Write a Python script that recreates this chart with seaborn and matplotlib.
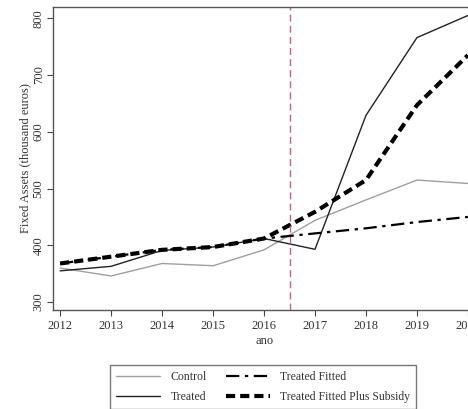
import pandas as pd
import matplotlib
matplotlib.use("Agg")
import matplotlib.pyplot as plt
import seaborn as sns

# values
years = [2012, 2013, 2014, 2015, 2016, 2017, 2018, 2019, 2020]
control = [360, 346, 368, 364, 392, 444, 480, 515, 509]
treated = [355, 363, 391, 397, 412, 393, 629, 766, 805]
treated_fitted = [368, 380, 392, 397, 412, 421, 430, 441, 450]
fitted_subsidy = [368, 380, 392, 397, 412, 459, 515, 647, 735]
treatment_year = 2016.5

df = pd.DataFrame({'ano': years, 'Control': control, 'Treated': treated,
                   'Treated Fitted': treated_fitted,
                   'Treated Fitted Plus Subsidy': fitted_subsidy})

sns.set_style('white')
plt.rcParams['font.family'] = ['Liberation Serif', 'DejaVu Serif']

fig = plt.figure(figsize=(4.68, 4.09), dpi=100)
ax = fig.add_axes([0.1132, 0.242, 0.903, 0.741])

sns.lineplot(data=df, x='ano', y='Control', ax=ax, color='#a0a0a0', lw=1.0, label='Control')
sns.lineplot(data=df, x='ano', y='Treated', ax=ax, color='#222222', lw=1.0, label='Treated')
sns.lineplot(data=df, x='ano', y='Treated Fitted', ax=ax, color='black', lw=1.6,
             label='Treated Fitted').lines[-1].set_dashes([6, 2.5, 1.5, 2.5])
sns.lineplot(data=df, x='ano', y='Treated Fitted Plus Subsidy', ax=ax, color='black', lw=3.0,
             label='Treated Fitted Plus Subsidy').lines[-1].set_dashes([2.2, 1.2])
ax.axvline(treatment_year, color='#b07080', lw=1.0, ls=(0, (5, 3)))

ax.set_xlim(2011.86, 2020.15)
ax.set_ylim(286, 820)
ax.set_xticks(years)
ax.set_yticks([300, 400, 500, 600, 700, 800])
ax.tick_params(axis='both', which='both', direction='out', length=4, width=0.8,
               color='#444444', labelsize=9, labelcolor='#333333', bottom=True, left=True)
ax.tick_params(axis='y', pad=2)
for lab in ax.get_yticklabels():
    lab.set_rotation(90)
    lab.set_va('center')
ax.set_xlabel('ano', fontsize=9, color='#333333', labelpad=2)
ax.set_ylabel('Fixed Assets (thousand euros)', fontsize=9, color='#333333', labelpad=1)
for s in ax.spines.values():
    s.set_color('#555555')
    s.set_linewidth(1.0)

ax.get_legend().remove()
h, l = ax.get_legend_handles_labels()
fig.legend(h, l, ncol=2, loc='upper center', bbox_to_anchor=(0.562, 0.122),
           frameon=True, fancybox=False, edgecolor='#555555', fontsize=8.5,
           handlelength=3.8, handletextpad=0.85, columnspacing=1.6,
           borderpad=0.5, labelspacing=0.7, labelcolor='#333333')

fig.savefig('out.png', dpi=100)
